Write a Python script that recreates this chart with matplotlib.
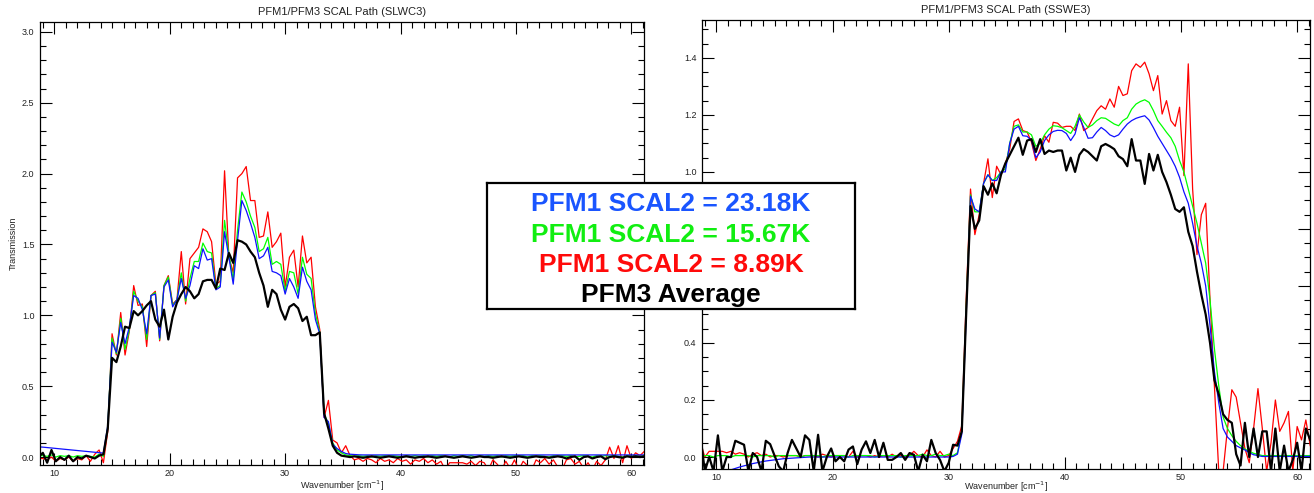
import numpy as np
import matplotlib.pyplot as plt
from matplotlib.ticker import MultipleLocator, FuncFormatter

plt.rcParams['font.family'] = ['Liberation Sans', 'DejaVu Sans']

# common wavenumber grid [cm-1]
wavenumber = 8.625 + 0.375 * np.arange(141)

# ---- SLWC3 detector ----
slwc3_pfm3 = [
    0.00,
    0.03, -0.04, 0.05, -0.03, 0.00, -0.02, 0.01, -0.03, 0.00, -0.01,
    0.01, 0.00, -0.01, 0.01, 0.02, 0.20, 0.70, 0.67, 0.78, 0.92,
    0.91, 1.03, 1.00, 1.03, 1.07, 1.10, 0.97, 0.92, 1.04, 0.83,
    0.99, 1.09, 1.15, 1.20, 1.17, 1.12, 1.15, 1.24, 1.25, 1.25,
    1.19, 1.33, 1.32, 1.44, 1.37, 1.53, 1.52, 1.50, 1.45, 1.41,
    1.30, 1.21, 1.06, 1.18, 1.15, 1.04, 0.97, 1.06, 1.08, 1.05,
    0.96, 0.99, 0.86, 0.86, 0.88, 0.31, 0.20, 0.08, 0.03, 0.01,
    0.005, 0.00, 0.005, 0.00, -0.005, 0.00, 0.005, 0.00, -0.005, 0.00,
    0.005, 0.00, -0.005, 0.00, 0.005, 0.00, -0.005, 0.00, 0.00, 0.005,
    0.00, -0.005, 0.00, 0.005, 0.00, -0.005, 0.00, 0.005, 0.00, -0.005,
    0.00, 0.005, 0.00, 0.00, -0.005, 0.00, 0.005, 0.00, -0.005, 0.00,
    0.005, 0.00, -0.005, 0.00, 0.005, 0.00, 0.00, -0.005, 0.00, 0.005,
    0.00, -0.01, 0.00, 0.005, -0.02, 0.00, 0.005, -0.01, 0.00, 0.005,
    -0.015, 0.00, 0.005, 0.00, -0.005, 0.005, 0.00, 0.005, 0.00, 0.005,
]
slwc3_23k = [
    0.072,
    0.070, 0.067, 0.064, 0.061, 0.058, 0.055, 0.052, 0.049, 0.046, 0.043,
    0.040, 0.037, 0.034, 0.031, 0.028, 0.22, 0.81, 0.74, 0.95, 0.80,
    0.92, 1.14, 1.12, 1.04, 0.87, 1.14, 1.15, 0.84, 1.20, 1.25,
    1.06, 1.11, 1.26, 1.12, 1.21, 1.35, 1.33, 1.47, 1.39, 1.40,
    1.18, 1.20, 1.59, 1.41, 1.22, 1.53, 1.81, 1.74, 1.65, 1.55,
    1.40, 1.42, 1.48, 1.31, 1.30, 1.28, 1.15, 1.26, 1.20, 1.12,
    1.34, 1.24, 1.18, 0.97, 0.87, 0.28, 0.25, 0.09, 0.06, 0.04,
    0.025, 0.020, 0.018, 0.016, 0.015, 0.015, 0.015, 0.015, 0.015, 0.015,
    0.015, 0.015, 0.015, 0.015, 0.015, 0.015, 0.015, 0.015, 0.015, 0.015,
    0.015, 0.015, 0.015, 0.015, 0.015, 0.015, 0.015, 0.015, 0.015, 0.015,
    0.015, 0.015, 0.015, 0.015, 0.015, 0.015, 0.015, 0.015, 0.015, 0.015,
    0.015, 0.015, 0.015, 0.015, 0.015, 0.015, 0.015, 0.015, 0.015, 0.015,
    0.015, 0.015, 0.015, 0.015, 0.015, 0.015, 0.015, 0.015, 0.015, 0.015,
    0.015, 0.015, 0.015, 0.015, 0.015, 0.015, 0.015, 0.015, 0.015, 0.015,
]
slwc3_15k = [
    0.012,
    0.010, 0.005, 0.015, 0.000, 0.010, 0.005, 0.010, 0.000, 0.010, 0.005,
    0.010, 0.005, 0.000, 0.020, 0.005, 0.21, 0.84, 0.73, 0.98, 0.76,
    0.90, 1.17, 1.10, 1.06, 0.83, 1.14, 1.16, 0.83, 1.21, 1.27,
    1.07, 1.11, 1.30, 1.10, 1.26, 1.38, 1.38, 1.51, 1.45, 1.44,
    1.19, 1.21, 1.67, 1.43, 1.25, 1.60, 1.87, 1.80, 1.70, 1.62,
    1.45, 1.47, 1.55, 1.36, 1.38, 1.36, 1.17, 1.31, 1.30, 1.15,
    1.41, 1.29, 1.26, 1.01, 0.88, 0.30, 0.24, 0.10, 0.05, 0.03,
    0.015, 0.010, 0.005, 0.010, 0.005, 0.010, 0.000, 0.010, 0.005, 0.010,
    0.005, 0.010, 0.005, 0.000, 0.010, 0.005, 0.010, 0.005, 0.010, 0.000,
    0.010, 0.005, 0.010, 0.005, 0.000, 0.010, 0.005, 0.010, 0.005, 0.010,
    0.000, 0.010, 0.005, 0.010, 0.005, 0.010, 0.000, 0.010, 0.005, 0.010,
    0.005, 0.010, 0.000, 0.010, 0.005, 0.010, 0.005, 0.000, 0.010, 0.005,
    0.010, 0.005, 0.010, 0.000, 0.005, 0.010, 0.005, 0.000, 0.010, 0.005,
    0.010, 0.005, 0.010, 0.005, 0.000, 0.010, 0.005, 0.010, 0.005, 0.010,
]
slwc3_9k = [
    -0.01,
    -0.01, -0.02, 0.00, -0.03, -0.01, -0.02, 0.00, -0.03, -0.01, -0.02,
    0.01, -0.03, 0.02, 0.05, -0.04, 0.18, 0.87, 0.72, 1.02, 0.72,
    0.89, 1.21, 1.07, 1.08, 0.78, 1.14, 1.17, 0.82, 1.21, 1.28,
    1.08, 1.11, 1.45, 1.08, 1.40, 1.44, 1.48, 1.61, 1.59, 1.52,
    1.22, 1.24, 2.02, 1.41, 1.30, 1.97, 2.00, 2.05, 1.81, 1.81,
    1.55, 1.56, 1.73, 1.48, 1.52, 1.58, 1.20, 1.41, 1.46, 1.20,
    1.56, 1.37, 1.41, 1.06, 0.90, 0.28, 0.40, 0.12, 0.10, 0.03,
    0.08, 0.01, -0.02, -0.01, -0.03, -0.01, -0.02, -0.04, -0.01, -0.03,
    -0.02, -0.04, -0.01, -0.03, -0.02, -0.05, -0.02, -0.03, -0.01, -0.04,
    -0.02, -0.05, -0.03, -0.09, -0.04, -0.04, -0.04, -0.04, -0.05, -0.03,
    -0.06, -0.03, -0.04, -0.09, -0.02, -0.05, -0.09, -0.03, -0.08, -0.02,
    -0.09, -0.03, -0.06, -0.09, -0.02, -0.04, -0.01, -0.05, -0.02, -0.07,
    -0.09, -0.02, -0.01, -0.05, -0.03, -0.08, -0.04, -0.09, -0.03, -0.06,
    -0.02, 0.07, -0.01, 0.08, -0.04, 0.08, -0.01, 0.03, 0.01, 0.04,
]

# ---- SSWE3 detector ----
sswe3_pfm3 = [
    0.073,
    -0.05, 0.00, -0.05, 0.076, -0.05, 0.00, 0.00, 0.057, 0.05, 0.043,
    -0.05, 0.014, 0.00, -0.05, 0.057, 0.045, 0.005, -0.033, -0.05, 0.014,
    0.06, 0.03, 0.00, 0.076, 0.06, -0.05, 0.078, -0.05, 0.00, 0.03,
    -0.015, 0.00, -0.015, 0.026, 0.037, -0.025, 0.026, 0.055, 0.014, 0.06,
    0.00, 0.05, -0.01, -0.01, 0.00, 0.014, -0.01, 0.014, 0.008, -0.05,
    0.008, -0.015, 0.06, 0.014, -0.01, -0.05, -0.02, 0.043, 0.04, 0.09,
    0.50, 0.88, 0.80, 0.83, 0.95, 0.92, 0.96, 0.925, 0.99, 1.03,
    1.06, 1.09, 1.12, 1.06, 1.11, 1.115, 1.07, 1.115, 1.063, 1.075,
    1.07, 1.075, 1.075, 1.005, 1.05, 1.00, 1.06, 1.08, 1.07, 1.055,
    1.04, 1.09, 1.098, 1.09, 1.08, 1.055, 1.045, 1.02, 1.115, 1.04,
    1.04, 0.958, 1.063, 1.005, 1.06, 1.00, 0.964, 0.92, 0.87, 0.86,
    0.876, 0.79, 0.74, 0.65, 0.57, 0.50, 0.40, 0.27, 0.22, 0.15,
    0.13, 0.12, 0.01, -0.03, 0.12, 0.00, 0.10, 0.00, 0.09, 0.09,
    -0.05, 0.10, -0.05, 0.04, -0.05, -0.01, 0.05, -0.05, 0.10, 0.06,
]
sswe3_23k = [
    -0.085,
    -0.080, -0.074, -0.068, -0.062, -0.056, -0.050, -0.045, -0.040, -0.035, -0.031,
    -0.027, -0.023, -0.020, -0.017, -0.014, -0.012, -0.010, -0.008, -0.006, -0.005,
    -0.004, -0.003, -0.002, -0.001, 0.000, 0.000, 0.000, 0.000, 0.000, 0.000,
    0.000, 0.000, 0.000, 0.000, 0.000, 0.000, 0.000, 0.000, 0.000, 0.000,
    0.000, 0.000, 0.000, 0.000, 0.000, 0.000, 0.000, 0.000, 0.000, 0.000,
    0.000, 0.000, 0.000, 0.000, 0.000, 0.000, 0.000, 0.002, 0.010, 0.080,
    0.50, 0.915, 0.87, 0.86, 0.96, 0.99, 0.97, 0.97, 1.00, 1.00,
    1.10, 1.15, 1.16, 1.127, 1.125, 1.11, 1.05, 1.07, 1.11, 1.13,
    1.142, 1.146, 1.145, 1.135, 1.11, 1.133, 1.19, 1.156, 1.118, 1.12,
    1.14, 1.156, 1.145, 1.13, 1.123, 1.13, 1.15, 1.168, 1.18, 1.188,
    1.193, 1.197, 1.182, 1.155, 1.125, 1.10, 1.075, 1.05, 1.02, 0.981,
    0.93, 0.89, 0.82, 0.74, 0.68, 0.60, 0.46, 0.30, 0.19, 0.10,
    0.07, 0.055, 0.04, 0.032, 0.025, 0.015, 0.008, 0.005, 0.002, 0.002,
    0.002, 0.002, 0.002, 0.002, 0.002, 0.002, 0.002, 0.002, 0.002, 0.002,
]
sswe3_15k = [
    0.000,
    0.005, 0.005, 0.000, 0.005, 0.005, 0.005, 0.000, 0.005, 0.005, 0.005,
    0.005, 0.000, 0.005, 0.005, 0.005, 0.005, 0.000, 0.005, 0.005, 0.005,
    0.005, 0.005, 0.000, 0.005, 0.005, 0.005, 0.005, 0.000, 0.005, 0.005,
    0.005, 0.005, 0.005, 0.000, 0.005, 0.005, 0.005, 0.005, 0.005, 0.000,
    0.005, 0.005, 0.005, 0.005, 0.005, 0.000, 0.005, 0.005, 0.005, 0.005,
    0.010, 0.005, 0.005, 0.010, 0.005, 0.005, 0.010, 0.005, 0.015, 0.090,
    0.52, 0.92, 0.86, 0.86, 0.96, 0.99, 0.97, 0.98, 1.00, 1.01,
    1.10, 1.16, 1.165, 1.14, 1.14, 1.13, 1.09, 1.10, 1.13, 1.15,
    1.162, 1.16, 1.155, 1.145, 1.135, 1.16, 1.20, 1.175, 1.156, 1.165,
    1.18, 1.19, 1.188, 1.178, 1.168, 1.162, 1.18, 1.19, 1.22, 1.238,
    1.247, 1.253, 1.244, 1.215, 1.18, 1.16, 1.139, 1.12, 1.09, 1.04,
    1.00, 0.94, 0.88, 0.82, 0.75, 0.68, 0.55, 0.38, 0.25, 0.14,
    0.10, 0.075, 0.055, 0.04, 0.028, 0.02, 0.013, 0.009, 0.005, 0.005,
    0.005, 0.005, 0.005, 0.005, 0.005, 0.005, 0.005, 0.005, 0.005, 0.005,
]
sswe3_9k = [
    0.05,
    0.00, 0.02, 0.02, 0.02, 0.02, 0.015, 0.02, 0.01, 0.015, 0.01,
    0.00, 0.01, 0.015, 0.005, 0.01, 0.00, 0.005, 0.005, 0.00, 0.005,
    0.005, 0.005, 0.00, 0.005, 0.005, 0.005, 0.00, 0.01, 0.005, 0.00,
    0.005, 0.005, 0.005, 0.00, 0.02, 0.00, 0.005, 0.005, 0.00, 0.005,
    0.00, 0.005, 0.00, 0.01, 0.00, 0.005, 0.00, 0.005, 0.02, 0.005,
    0.00, 0.025, 0.005, 0.00, 0.02, 0.00, 0.005, 0.03, 0.055, 0.11,
    0.55, 0.94, 0.78, 0.85, 0.96, 1.046, 0.91, 1.02, 0.99, 1.03,
    1.08, 1.177, 1.186, 1.145, 1.14, 1.104, 1.04, 1.08, 1.127, 1.104,
    1.174, 1.171, 1.156, 1.16, 1.16, 1.145, 1.203, 1.145, 1.156, 1.186,
    1.215, 1.232, 1.22, 1.256, 1.227, 1.30, 1.268, 1.274, 1.355, 1.379,
    1.367, 1.385, 1.344, 1.285, 1.338, 1.203, 1.25, 1.18, 1.16, 1.227,
    0.987, 1.379, 0.94, 0.71, 0.85, 0.89, 0.55, 0.25, -0.05, -0.05,
    0.10, 0.236, 0.21, 0.12, 0.03, -0.02, 0.10, 0.24, 0.10, -0.05,
    0.05, 0.20, 0.09, 0.12, 0.16, -0.05, 0.107, 0.06, 0.13, 0.04,
]

legend_lines = ['PFM1 SCAL2 = 23.18K', 'PFM1 SCAL2 = 15.67K',
                'PFM1 SCAL2 = 8.89K', 'PFM3 Average']
legend_colors = ['#1a55ff', '#11ee11', '#ff0a0a', 'black']

txt = '#222222'

fig = plt.figure(figsize=(13.14, 4.93), dpi=100)
ax1 = fig.add_axes([0.0304, 0.0568, 0.4597, 0.8986])
ax2 = fig.add_axes([0.5342, 0.0487, 0.4627, 0.9108])


def panel(ax, red, green, blue, black, ylim, ymajor, yminor, title):
    ax.plot(wavenumber, red, color='#ff0000', lw=0.9)
    ax.plot(wavenumber, green, color='#00ff00', lw=0.9)
    ax.plot(wavenumber, blue, color='#1010ff', lw=0.9)
    ax.plot(wavenumber, black, color='black', lw=1.6)
    ax.set_xlim(8.75, 61.1)
    ax.set_ylim(*ylim)
    ax.xaxis.set_major_locator(MultipleLocator(10))
    ax.xaxis.set_minor_locator(MultipleLocator(1))
    ax.yaxis.set_major_locator(MultipleLocator(ymajor))
    ax.yaxis.set_minor_locator(MultipleLocator(yminor))
    ax.tick_params(which='both', direction='in', top=True, right=True,
                   width=0.8, labelsize=6.5, labelcolor=txt)
    ax.tick_params(axis='x', pad=3)
    ax.tick_params(axis='y', pad=4)
    ax.tick_params(which='major', length=8.5)
    ax.tick_params(which='minor', length=4.3)
    for s in ax.spines.values():
        s.set_linewidth(0.9)
    ax.set_title(title, fontsize=8, color=txt, pad=5)
    ax.set_xlabel('Wavenumber [cm$^{-1}$]', fontsize=6.5, color=txt, labelpad=0)


panel(ax1, slwc3_9k, slwc3_15k, slwc3_23k, slwc3_pfm3,
      (-0.056, 3.07), 0.5, 0.1, 'PFM1/PFM3 SCAL Path (SLWC3)')
ax1.set_ylabel('Transmission', fontsize=6.5, color=txt, labelpad=3)

panel(ax2, sswe3_9k, sswe3_15k, sswe3_23k, sswe3_pfm3,
      (-0.042, 1.533), 0.2, 0.05, 'PFM1/PFM3 SCAL Path (SSWE3)')
ax2.xaxis.labelpad = -1.5
# the key box sits over the 0.6 and 0.8 labels of this panel
ax2.yaxis.set_major_formatter(
    FuncFormatter(lambda v, p: '' if 0.5 < v < 0.9 else f'{v:.1f}'))

# temperature key in a framed box across both panels
key = fig.add_axes([0.3706, 0.3732, 0.2801, 0.2556])
key.set_xticks([])
key.set_yticks([])
for s in key.spines.values():
    s.set_linewidth(1.6)
for label, color, yb in zip(legend_lines, legend_colors, [0.778, 0.534, 0.296, 0.058]):
    key.text(0.5, yb, label, color=color, fontsize=19, fontweight='bold',
             ha='center', va='baseline', transform=key.transAxes)

fig.savefig('out.png', dpi=100)
